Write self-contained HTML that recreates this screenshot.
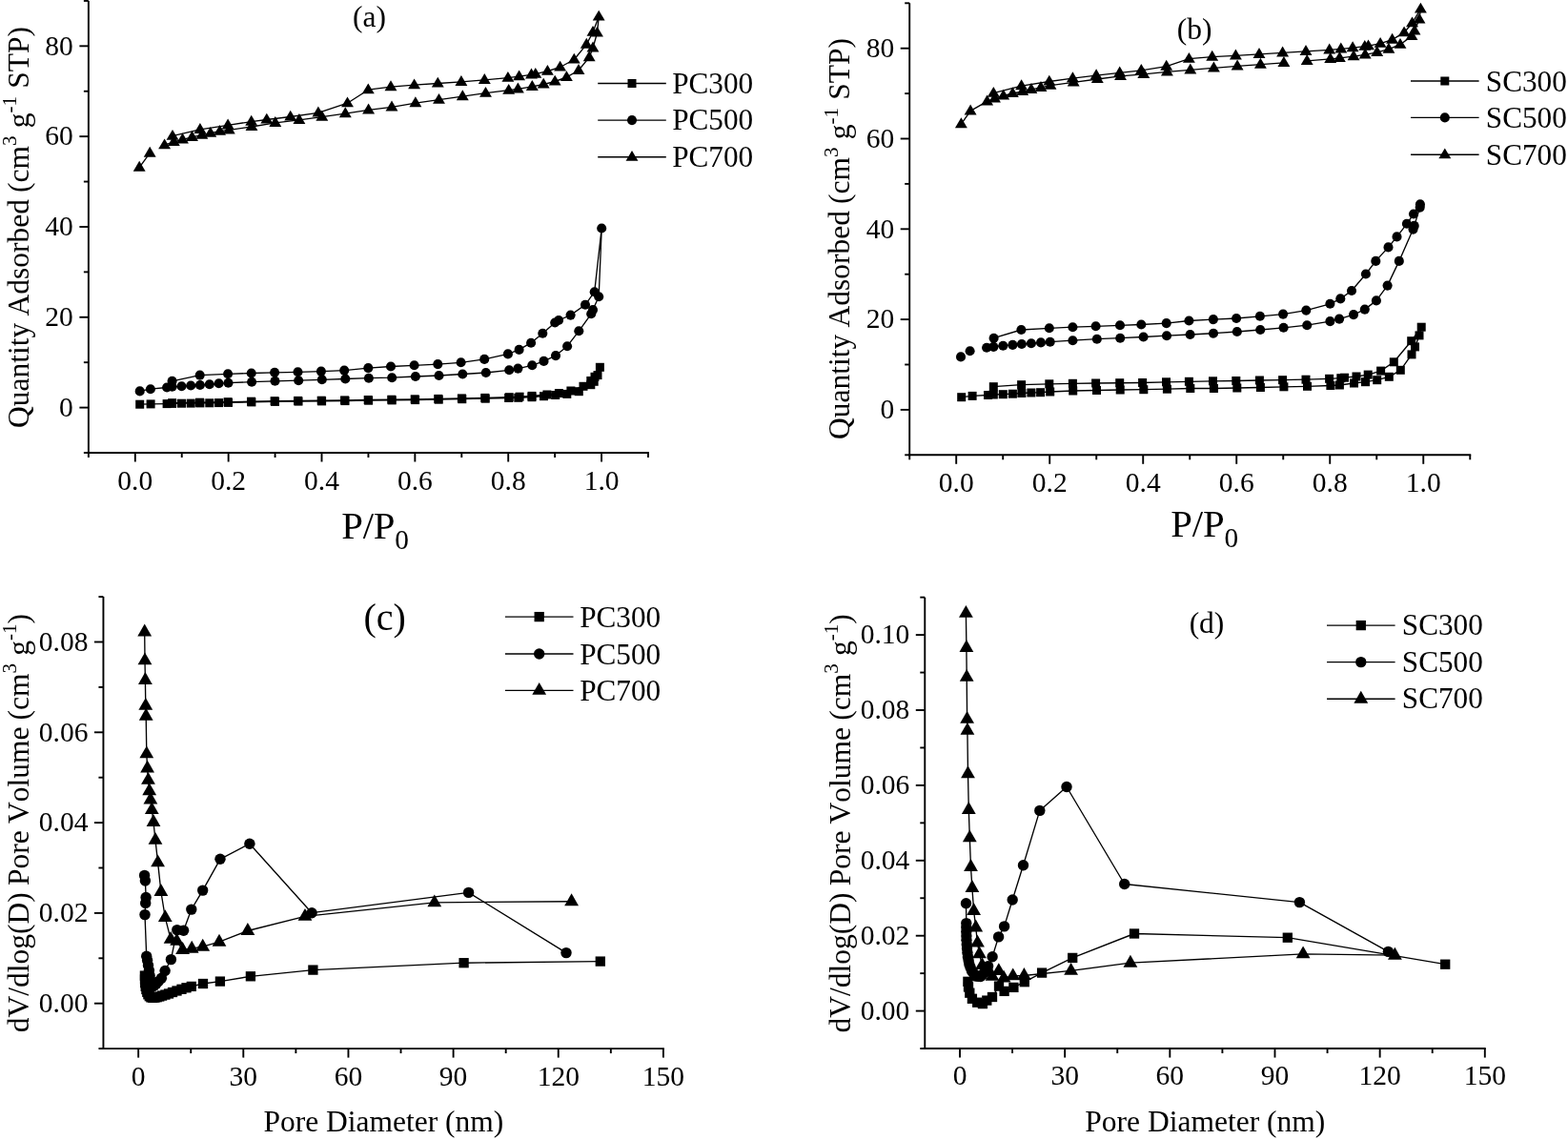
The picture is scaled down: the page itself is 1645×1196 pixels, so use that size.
<!DOCTYPE html>
<html lang="en"><head><meta charset="utf-8"><title>N2 adsorption isotherms and pore size distributions</title>
<style>
html,body{margin:0;padding:0;background:#fff;}
body{width:1645px;height:1196px;overflow:hidden;}
svg{display:block;font-family:"Liberation Serif", "DejaVu Serif", serif;fill:#000;font-kerning:none;font-variant-ligatures:none;}
</style></head><body>
<svg width="1645" height="1196" viewBox="0 0 1645 1196">
<rect x="0" y="0" width="1645" height="1196" fill="#fff"/>
<line x1="92.87" y1="0.91" x2="92.87" y2="475.96" stroke="#000" stroke-width="1.9"/>
<line x1="91.92" y1="475.01" x2="680.95" y2="475.01" stroke="#000" stroke-width="1.9"/>
<line x1="141.80" y1="475.01" x2="141.80" y2="484.51" stroke="#000" stroke-width="1.9"/>
<text x="141.80" y="514.01" font-size="29.5" text-anchor="middle" >0.0</text>
<line x1="239.65" y1="475.01" x2="239.65" y2="484.51" stroke="#000" stroke-width="1.9"/>
<text x="239.65" y="514.01" font-size="29.5" text-anchor="middle" >0.2</text>
<line x1="337.51" y1="475.01" x2="337.51" y2="484.51" stroke="#000" stroke-width="1.9"/>
<text x="337.51" y="514.01" font-size="29.5" text-anchor="middle" >0.4</text>
<line x1="435.36" y1="475.01" x2="435.36" y2="484.51" stroke="#000" stroke-width="1.9"/>
<text x="435.36" y="514.01" font-size="29.5" text-anchor="middle" >0.6</text>
<line x1="533.22" y1="475.01" x2="533.22" y2="484.51" stroke="#000" stroke-width="1.9"/>
<text x="533.22" y="514.01" font-size="29.5" text-anchor="middle" >0.8</text>
<line x1="631.07" y1="475.01" x2="631.07" y2="484.51" stroke="#000" stroke-width="1.9"/>
<text x="631.07" y="514.01" font-size="29.5" text-anchor="middle" >1.0</text>
<line x1="92.87" y1="475.01" x2="92.87" y2="480.01" stroke="#000" stroke-width="1.9"/>
<line x1="190.73" y1="475.01" x2="190.73" y2="480.01" stroke="#000" stroke-width="1.9"/>
<line x1="288.58" y1="475.01" x2="288.58" y2="480.01" stroke="#000" stroke-width="1.9"/>
<line x1="386.44" y1="475.01" x2="386.44" y2="480.01" stroke="#000" stroke-width="1.9"/>
<line x1="484.29" y1="475.01" x2="484.29" y2="480.01" stroke="#000" stroke-width="1.9"/>
<line x1="582.14" y1="475.01" x2="582.14" y2="480.01" stroke="#000" stroke-width="1.9"/>
<line x1="680.00" y1="475.01" x2="680.00" y2="480.01" stroke="#000" stroke-width="1.9"/>
<line x1="83.37" y1="427.60" x2="92.87" y2="427.60" stroke="#000" stroke-width="1.9"/>
<text x="76.87" y="436.90" font-size="29.5" text-anchor="end" >0</text>
<line x1="83.37" y1="332.78" x2="92.87" y2="332.78" stroke="#000" stroke-width="1.9"/>
<text x="76.87" y="342.08" font-size="29.5" text-anchor="end" >20</text>
<line x1="83.37" y1="237.96" x2="92.87" y2="237.96" stroke="#000" stroke-width="1.9"/>
<text x="76.87" y="247.26" font-size="29.5" text-anchor="end" >40</text>
<line x1="83.37" y1="143.14" x2="92.87" y2="143.14" stroke="#000" stroke-width="1.9"/>
<text x="76.87" y="152.44" font-size="29.5" text-anchor="end" >60</text>
<line x1="83.37" y1="48.32" x2="92.87" y2="48.32" stroke="#000" stroke-width="1.9"/>
<text x="76.87" y="57.62" font-size="29.5" text-anchor="end" >80</text>
<line x1="87.87" y1="475.01" x2="92.87" y2="475.01" stroke="#000" stroke-width="1.9"/>
<line x1="87.87" y1="380.19" x2="92.87" y2="380.19" stroke="#000" stroke-width="1.9"/>
<line x1="87.87" y1="285.37" x2="92.87" y2="285.37" stroke="#000" stroke-width="1.9"/>
<line x1="87.87" y1="190.55" x2="92.87" y2="190.55" stroke="#000" stroke-width="1.9"/>
<line x1="87.87" y1="95.73" x2="92.87" y2="95.73" stroke="#000" stroke-width="1.9"/>
<line x1="87.87" y1="0.91" x2="92.87" y2="0.91" stroke="#000" stroke-width="1.9"/>
<polyline points="146.7,424.2 158.1,423.9 175.1,423.6 180.6,423.4 190.5,423.2 200.2,423.1 209.9,422.9 219.8,422.8 229.6,422.6 239.5,422.4 263.9,421.9 288.5,421.4 313.0,421.1 337.6,420.9 362.0,420.6 386.6,420.2 411.2,419.9 435.6,419.6 460.2,419.2 484.8,418.7 509.2,418.2 533.7,417.5 543.8,417.3 558.0,416.7 570.5,415.7 582.7,414.5 594.8,413.4 607.3,410.7 619.8,403.7 623.2,400.3 627.0,393.6 629.4,385.3 624.0,395.3 619.8,399.5 612.0,405.3 598.9,410.0 586.4,412.5 573.9,414.0 558.0,415.4 545.1,416.2 534.2,416.7 508.8,417.4 484.4,417.9 459.8,418.4 435.2,418.8 410.8,419.2 386.2,419.5 361.6,419.9 337.2,420.2 312.6,420.4 288.1,420.7 263.5,421.2 239.1,421.7 209.5,422.2 180.6,422.7" fill="none" stroke="#000" stroke-width="1.35" stroke-linejoin="round"/>
<rect x="142.20" y="419.70" width="9.00" height="9.00"/>
<rect x="153.60" y="419.40" width="9.00" height="9.00"/>
<rect x="170.60" y="419.10" width="9.00" height="9.00"/>
<rect x="176.10" y="418.90" width="9.00" height="9.00"/>
<rect x="186.00" y="418.70" width="9.00" height="9.00"/>
<rect x="195.70" y="418.60" width="9.00" height="9.00"/>
<rect x="205.40" y="418.40" width="9.00" height="9.00"/>
<rect x="215.30" y="418.30" width="9.00" height="9.00"/>
<rect x="225.10" y="418.10" width="9.00" height="9.00"/>
<rect x="235.00" y="417.90" width="9.00" height="9.00"/>
<rect x="259.40" y="417.40" width="9.00" height="9.00"/>
<rect x="284.00" y="416.90" width="9.00" height="9.00"/>
<rect x="308.50" y="416.60" width="9.00" height="9.00"/>
<rect x="333.10" y="416.40" width="9.00" height="9.00"/>
<rect x="357.50" y="416.10" width="9.00" height="9.00"/>
<rect x="382.10" y="415.70" width="9.00" height="9.00"/>
<rect x="406.70" y="415.40" width="9.00" height="9.00"/>
<rect x="431.10" y="415.10" width="9.00" height="9.00"/>
<rect x="455.70" y="414.70" width="9.00" height="9.00"/>
<rect x="480.30" y="414.20" width="9.00" height="9.00"/>
<rect x="504.70" y="413.70" width="9.00" height="9.00"/>
<rect x="529.20" y="413.00" width="9.00" height="9.00"/>
<rect x="539.30" y="412.80" width="9.00" height="9.00"/>
<rect x="553.50" y="412.20" width="9.00" height="9.00"/>
<rect x="566.00" y="411.20" width="9.00" height="9.00"/>
<rect x="578.20" y="410.00" width="9.00" height="9.00"/>
<rect x="590.30" y="408.90" width="9.00" height="9.00"/>
<rect x="602.80" y="406.20" width="9.00" height="9.00"/>
<rect x="615.30" y="399.20" width="9.00" height="9.00"/>
<rect x="618.70" y="395.80" width="9.00" height="9.00"/>
<rect x="622.50" y="389.10" width="9.00" height="9.00"/>
<rect x="624.90" y="380.80" width="9.00" height="9.00"/>
<rect x="619.50" y="390.80" width="9.00" height="9.00"/>
<rect x="615.30" y="395.00" width="9.00" height="9.00"/>
<rect x="607.50" y="400.80" width="9.00" height="9.00"/>
<rect x="594.40" y="405.50" width="9.00" height="9.00"/>
<rect x="581.90" y="408.00" width="9.00" height="9.00"/>
<rect x="569.40" y="409.50" width="9.00" height="9.00"/>
<rect x="553.50" y="410.90" width="9.00" height="9.00"/>
<rect x="540.60" y="411.70" width="9.00" height="9.00"/>
<rect x="529.70" y="412.20" width="9.00" height="9.00"/>
<rect x="504.30" y="412.90" width="9.00" height="9.00"/>
<rect x="479.90" y="413.40" width="9.00" height="9.00"/>
<rect x="455.30" y="413.90" width="9.00" height="9.00"/>
<rect x="430.70" y="414.30" width="9.00" height="9.00"/>
<rect x="406.30" y="414.70" width="9.00" height="9.00"/>
<rect x="381.70" y="415.00" width="9.00" height="9.00"/>
<rect x="357.10" y="415.40" width="9.00" height="9.00"/>
<rect x="332.70" y="415.70" width="9.00" height="9.00"/>
<rect x="308.10" y="415.90" width="9.00" height="9.00"/>
<rect x="283.60" y="416.20" width="9.00" height="9.00"/>
<rect x="259.00" y="416.70" width="9.00" height="9.00"/>
<rect x="234.60" y="417.20" width="9.00" height="9.00"/>
<rect x="205.00" y="417.70" width="9.00" height="9.00"/>
<rect x="176.10" y="418.20" width="9.00" height="9.00"/>
<polyline points="146.7,410.4 157.9,408.2 175.1,406.5 180.6,405.8 190.5,405.3 200.2,404.5 209.9,404.0 219.8,403.2 229.6,402.3 239.5,401.7 264.1,400.7 288.5,399.8 313.2,399.2 337.8,398.3 362.3,397.5 386.9,396.7 411.2,396.2 435.9,395.0 460.5,394.0 485.3,392.5 509.8,391.0 534.2,388.3 543.4,386.6 558.3,383.3 570.5,378.9 583.0,373.1 595.1,363.2 607.3,347.3 620.2,329.3 622.0,325.1 628.2,311.2 631.2,239.5 623.7,306.2 614.0,319.8 598.6,330.6 586.1,336.0 582.2,338.5 569.3,349.7 557.1,359.7 544.6,366.9 532.9,371.4 508.2,376.9 483.6,380.3 459.3,382.1 434.6,383.3 410.0,384.5 386.3,386.1 361.2,388.6 336.9,389.6 312.5,390.3 288.1,390.8 263.7,391.5 239.1,392.3 209.7,393.6 180.6,399.8" fill="none" stroke="#000" stroke-width="1.35" stroke-linejoin="round"/>
<circle cx="146.70" cy="410.40" r="5.05"/>
<circle cx="157.90" cy="408.20" r="5.05"/>
<circle cx="175.10" cy="406.50" r="5.05"/>
<circle cx="180.60" cy="405.80" r="5.05"/>
<circle cx="190.50" cy="405.30" r="5.05"/>
<circle cx="200.20" cy="404.50" r="5.05"/>
<circle cx="209.90" cy="404.00" r="5.05"/>
<circle cx="219.80" cy="403.20" r="5.05"/>
<circle cx="229.60" cy="402.30" r="5.05"/>
<circle cx="239.50" cy="401.70" r="5.05"/>
<circle cx="264.10" cy="400.70" r="5.05"/>
<circle cx="288.50" cy="399.80" r="5.05"/>
<circle cx="313.20" cy="399.20" r="5.05"/>
<circle cx="337.80" cy="398.30" r="5.05"/>
<circle cx="362.30" cy="397.50" r="5.05"/>
<circle cx="386.90" cy="396.70" r="5.05"/>
<circle cx="411.20" cy="396.20" r="5.05"/>
<circle cx="435.90" cy="395.00" r="5.05"/>
<circle cx="460.50" cy="394.00" r="5.05"/>
<circle cx="485.30" cy="392.50" r="5.05"/>
<circle cx="509.80" cy="391.00" r="5.05"/>
<circle cx="534.20" cy="388.30" r="5.05"/>
<circle cx="543.40" cy="386.60" r="5.05"/>
<circle cx="558.30" cy="383.30" r="5.05"/>
<circle cx="570.50" cy="378.90" r="5.05"/>
<circle cx="583.00" cy="373.10" r="5.05"/>
<circle cx="595.10" cy="363.20" r="5.05"/>
<circle cx="607.30" cy="347.30" r="5.05"/>
<circle cx="620.20" cy="329.30" r="5.05"/>
<circle cx="622.00" cy="325.10" r="5.05"/>
<circle cx="628.20" cy="311.20" r="5.05"/>
<circle cx="631.20" cy="239.50" r="5.05"/>
<circle cx="623.70" cy="306.20" r="5.05"/>
<circle cx="614.00" cy="319.80" r="5.05"/>
<circle cx="598.60" cy="330.60" r="5.05"/>
<circle cx="586.10" cy="336.00" r="5.05"/>
<circle cx="582.20" cy="338.50" r="5.05"/>
<circle cx="569.30" cy="349.70" r="5.05"/>
<circle cx="557.10" cy="359.70" r="5.05"/>
<circle cx="544.60" cy="366.90" r="5.05"/>
<circle cx="532.90" cy="371.40" r="5.05"/>
<circle cx="508.20" cy="376.90" r="5.05"/>
<circle cx="483.60" cy="380.30" r="5.05"/>
<circle cx="459.30" cy="382.10" r="5.05"/>
<circle cx="434.60" cy="383.30" r="5.05"/>
<circle cx="410.00" cy="384.50" r="5.05"/>
<circle cx="386.30" cy="386.10" r="5.05"/>
<circle cx="361.20" cy="388.60" r="5.05"/>
<circle cx="336.90" cy="389.60" r="5.05"/>
<circle cx="312.50" cy="390.30" r="5.05"/>
<circle cx="288.10" cy="390.80" r="5.05"/>
<circle cx="263.70" cy="391.50" r="5.05"/>
<circle cx="239.10" cy="392.30" r="5.05"/>
<circle cx="209.70" cy="393.60" r="5.05"/>
<circle cx="180.60" cy="399.80" r="5.05"/>
<polyline points="146.2,175.6 157.2,160.6" fill="none" stroke="#000" stroke-width="1.35" stroke-linejoin="round"/>
<polyline points="172.6,152.2 182.3,148.9 191.5,146.4 201.5,143.9 211.9,141.7 220.8,139.7 230.6,137.7 240.3,136.3 264.0,133.0 288.8,128.8 313.9,125.8 337.8,122.6 362.3,119.1 386.6,115.4 411.0,112.3 435.9,108.1 460.5,104.7 485.3,101.1 509.5,97.7 533.7,94.7 543.4,93.4 558.3,90.9 570.2,88.5 582.2,85.5 594.4,81.0 607.0,73.8 618.2,60.1 622.0,50.4 626.5,34.5 628.2,17.5 622.0,33.7 615.3,46.6 602.3,62.5 587.6,70.5 574.4,74.7 561.8,77.7 557.5,78.3 544.6,80.2 532.9,81.7 508.3,83.9 483.9,85.9 459.3,87.5 434.6,89.2 410.0,91.1 386.3,94.2 364.5,108.2 333.9,118.3 304.7,122.5 279.8,125.5 263.7,127.6 239.1,131.3 209.9,135.8 181.0,142.7" fill="none" stroke="#000" stroke-width="1.35" stroke-linejoin="round"/>
<polygon points="146.20,168.80 152.65,179.70 139.75,179.70"/>
<polygon points="157.20,153.80 163.65,164.70 150.75,164.70"/>
<polygon points="172.60,145.40 179.05,156.30 166.15,156.30"/>
<polygon points="182.30,142.10 188.75,153.00 175.85,153.00"/>
<polygon points="191.50,139.60 197.95,150.50 185.05,150.50"/>
<polygon points="201.50,137.10 207.95,148.00 195.05,148.00"/>
<polygon points="211.90,134.90 218.35,145.80 205.45,145.80"/>
<polygon points="220.80,132.90 227.25,143.80 214.35,143.80"/>
<polygon points="230.60,130.90 237.05,141.80 224.15,141.80"/>
<polygon points="240.30,129.50 246.75,140.40 233.85,140.40"/>
<polygon points="264.00,126.20 270.45,137.10 257.55,137.10"/>
<polygon points="288.80,122.00 295.25,132.90 282.35,132.90"/>
<polygon points="313.90,119.00 320.35,129.90 307.45,129.90"/>
<polygon points="337.80,115.80 344.25,126.70 331.35,126.70"/>
<polygon points="362.30,112.30 368.75,123.20 355.85,123.20"/>
<polygon points="386.60,108.60 393.05,119.50 380.15,119.50"/>
<polygon points="411.00,105.50 417.45,116.40 404.55,116.40"/>
<polygon points="435.90,101.30 442.35,112.20 429.45,112.20"/>
<polygon points="460.50,97.90 466.95,108.80 454.05,108.80"/>
<polygon points="485.30,94.30 491.75,105.20 478.85,105.20"/>
<polygon points="509.50,90.90 515.95,101.80 503.05,101.80"/>
<polygon points="533.70,87.90 540.15,98.80 527.25,98.80"/>
<polygon points="543.40,86.60 549.85,97.50 536.95,97.50"/>
<polygon points="558.30,84.10 564.75,95.00 551.85,95.00"/>
<polygon points="570.20,81.70 576.65,92.60 563.75,92.60"/>
<polygon points="582.20,78.70 588.65,89.60 575.75,89.60"/>
<polygon points="594.40,74.20 600.85,85.10 587.95,85.10"/>
<polygon points="607.00,67.00 613.45,77.90 600.55,77.90"/>
<polygon points="618.20,53.30 624.65,64.20 611.75,64.20"/>
<polygon points="622.00,43.60 628.45,54.50 615.55,54.50"/>
<polygon points="626.50,27.70 632.95,38.60 620.05,38.60"/>
<polygon points="628.20,10.70 634.65,21.60 621.75,21.60"/>
<polygon points="622.00,26.90 628.45,37.80 615.55,37.80"/>
<polygon points="615.30,39.80 621.75,50.70 608.85,50.70"/>
<polygon points="602.30,55.70 608.75,66.60 595.85,66.60"/>
<polygon points="587.60,63.70 594.05,74.60 581.15,74.60"/>
<polygon points="574.40,67.90 580.85,78.80 567.95,78.80"/>
<polygon points="561.80,70.90 568.25,81.80 555.35,81.80"/>
<polygon points="557.50,71.50 563.95,82.40 551.05,82.40"/>
<polygon points="544.60,73.40 551.05,84.30 538.15,84.30"/>
<polygon points="532.90,74.90 539.35,85.80 526.45,85.80"/>
<polygon points="508.30,77.10 514.75,88.00 501.85,88.00"/>
<polygon points="483.90,79.10 490.35,90.00 477.45,90.00"/>
<polygon points="459.30,80.70 465.75,91.60 452.85,91.60"/>
<polygon points="434.60,82.40 441.05,93.30 428.15,93.30"/>
<polygon points="410.00,84.30 416.45,95.20 403.55,95.20"/>
<polygon points="386.30,87.40 392.75,98.30 379.85,98.30"/>
<polygon points="364.50,101.40 370.95,112.30 358.05,112.30"/>
<polygon points="333.90,111.50 340.35,122.40 327.45,122.40"/>
<polygon points="304.70,115.70 311.15,126.60 298.25,126.60"/>
<polygon points="279.80,118.70 286.25,129.60 273.35,129.60"/>
<polygon points="263.70,120.80 270.15,131.70 257.25,131.70"/>
<polygon points="239.10,124.50 245.55,135.40 232.65,135.40"/>
<polygon points="209.90,129.00 216.35,139.90 203.45,139.90"/>
<polygon points="181.00,135.90 187.45,146.80 174.55,146.80"/>
<line x1="627.20" y1="87.50" x2="698.80" y2="87.50" stroke="#000" stroke-width="1.35"/>
<rect x="658.50" y="83.00" width="9.00" height="9.00"/>
<text x="705.20" y="97.50" font-size="31.2" text-anchor="start" >PC300</text>
<line x1="627.20" y1="126.10" x2="698.80" y2="126.10" stroke="#000" stroke-width="1.35"/>
<circle cx="663.00" cy="126.10" r="5.05"/>
<text x="705.20" y="136.10" font-size="31.2" text-anchor="start" >PC500</text>
<line x1="627.20" y1="164.70" x2="698.80" y2="164.70" stroke="#000" stroke-width="1.35"/>
<polygon points="663.00,157.90 669.45,168.80 656.55,168.80"/>
<text x="705.20" y="174.70" font-size="31.2" text-anchor="start" >PC700</text>
<text transform="translate(29.8,238.5) rotate(-90)" font-size="31.5" word-spacing="-0.7" text-anchor="middle">Quantity Adsorbed (cm<tspan dy="-12.7" font-size="21">3</tspan><tspan dx="1.0" dy="12.7"> g</tspan><tspan dy="-12.7" font-size="21">-1</tspan><tspan dx="1.0" dy="12.7"> STP)</tspan></text>
<text x="358.2" y="565" font-size="40.8" letter-spacing="-0.2" text-anchor="start">P/P<tspan dx="0" dy="10.8" font-size="29.3">0</tspan></text>
<text x="387.6" y="27.9" font-size="31.5" text-anchor="middle">(a)</text>
<line x1="954.20" y1="3.30" x2="954.20" y2="478.25" stroke="#000" stroke-width="1.9"/>
<line x1="953.25" y1="477.30" x2="1543.21" y2="477.30" stroke="#000" stroke-width="1.9"/>
<line x1="1003.20" y1="477.30" x2="1003.20" y2="486.80" stroke="#000" stroke-width="1.9"/>
<text x="1003.20" y="516.30" font-size="29.5" text-anchor="middle" >0.0</text>
<line x1="1101.21" y1="477.30" x2="1101.21" y2="486.80" stroke="#000" stroke-width="1.9"/>
<text x="1101.21" y="516.30" font-size="29.5" text-anchor="middle" >0.2</text>
<line x1="1199.22" y1="477.30" x2="1199.22" y2="486.80" stroke="#000" stroke-width="1.9"/>
<text x="1199.22" y="516.30" font-size="29.5" text-anchor="middle" >0.4</text>
<line x1="1297.23" y1="477.30" x2="1297.23" y2="486.80" stroke="#000" stroke-width="1.9"/>
<text x="1297.23" y="516.30" font-size="29.5" text-anchor="middle" >0.6</text>
<line x1="1395.24" y1="477.30" x2="1395.24" y2="486.80" stroke="#000" stroke-width="1.9"/>
<text x="1395.24" y="516.30" font-size="29.5" text-anchor="middle" >0.8</text>
<line x1="1493.25" y1="477.30" x2="1493.25" y2="486.80" stroke="#000" stroke-width="1.9"/>
<text x="1493.25" y="516.30" font-size="29.5" text-anchor="middle" >1.0</text>
<line x1="954.20" y1="477.30" x2="954.20" y2="482.30" stroke="#000" stroke-width="1.9"/>
<line x1="1052.21" y1="477.30" x2="1052.21" y2="482.30" stroke="#000" stroke-width="1.9"/>
<line x1="1150.22" y1="477.30" x2="1150.22" y2="482.30" stroke="#000" stroke-width="1.9"/>
<line x1="1248.23" y1="477.30" x2="1248.23" y2="482.30" stroke="#000" stroke-width="1.9"/>
<line x1="1346.24" y1="477.30" x2="1346.24" y2="482.30" stroke="#000" stroke-width="1.9"/>
<line x1="1444.25" y1="477.30" x2="1444.25" y2="482.30" stroke="#000" stroke-width="1.9"/>
<line x1="1542.26" y1="477.30" x2="1542.26" y2="482.30" stroke="#000" stroke-width="1.9"/>
<line x1="944.70" y1="429.90" x2="954.20" y2="429.90" stroke="#000" stroke-width="1.9"/>
<text x="938.20" y="439.20" font-size="29.5" text-anchor="end" >0</text>
<line x1="944.70" y1="335.10" x2="954.20" y2="335.10" stroke="#000" stroke-width="1.9"/>
<text x="938.20" y="344.40" font-size="29.5" text-anchor="end" >20</text>
<line x1="944.70" y1="240.30" x2="954.20" y2="240.30" stroke="#000" stroke-width="1.9"/>
<text x="938.20" y="249.60" font-size="29.5" text-anchor="end" >40</text>
<line x1="944.70" y1="145.50" x2="954.20" y2="145.50" stroke="#000" stroke-width="1.9"/>
<text x="938.20" y="154.80" font-size="29.5" text-anchor="end" >60</text>
<line x1="944.70" y1="50.70" x2="954.20" y2="50.70" stroke="#000" stroke-width="1.9"/>
<text x="938.20" y="60.00" font-size="29.5" text-anchor="end" >80</text>
<line x1="949.20" y1="477.30" x2="954.20" y2="477.30" stroke="#000" stroke-width="1.9"/>
<line x1="949.20" y1="382.50" x2="954.20" y2="382.50" stroke="#000" stroke-width="1.9"/>
<line x1="949.20" y1="287.70" x2="954.20" y2="287.70" stroke="#000" stroke-width="1.9"/>
<line x1="949.20" y1="192.90" x2="954.20" y2="192.90" stroke="#000" stroke-width="1.9"/>
<line x1="949.20" y1="98.10" x2="954.20" y2="98.10" stroke="#000" stroke-width="1.9"/>
<line x1="949.20" y1="3.30" x2="954.20" y2="3.30" stroke="#000" stroke-width="1.9"/>
<polyline points="1008.7,416.7 1020.1,415.4 1036.5,414.5 1042.3,414.0 1052.3,413.7 1062.4,413.2 1071.9,412.5 1081.9,412.0 1091.6,411.7 1101.7,411.0 1125.7,410.0 1150.5,409.5 1175.2,409.0 1199.8,408.7 1224.4,408.2 1248.8,407.5 1273.4,407.5 1297.8,407.0 1322.4,406.5 1346.9,405.8 1371.5,405.3 1395.9,404.5 1405.4,404.0 1420.5,402.0 1432.5,400.7 1444.7,398.7 1457.3,395.3 1469.3,388.3 1481.0,371.9 1484.5,363.9 1489.0,351.9 1491.2,343.2 1480.7,357.7 1462.3,379.8 1448.6,389.1 1435.2,393.1 1423.0,395.0 1410.5,396.2 1406.8,396.7 1394.6,397.3 1370.0,398.2 1345.6,398.7 1321.4,399.0 1296.8,399.5 1272.5,399.8 1247.4,400.3 1223.5,400.8 1198.6,401.5 1174.7,401.7 1149.6,402.0 1125.4,402.3 1100.8,402.8 1071.6,403.7 1042.3,405.7" fill="none" stroke="#000" stroke-width="1.35" stroke-linejoin="round"/>
<rect x="1004.20" y="412.20" width="9.00" height="9.00"/>
<rect x="1015.60" y="410.90" width="9.00" height="9.00"/>
<rect x="1032.00" y="410.00" width="9.00" height="9.00"/>
<rect x="1037.80" y="409.50" width="9.00" height="9.00"/>
<rect x="1047.80" y="409.20" width="9.00" height="9.00"/>
<rect x="1057.90" y="408.70" width="9.00" height="9.00"/>
<rect x="1067.40" y="408.00" width="9.00" height="9.00"/>
<rect x="1077.40" y="407.50" width="9.00" height="9.00"/>
<rect x="1087.10" y="407.20" width="9.00" height="9.00"/>
<rect x="1097.20" y="406.50" width="9.00" height="9.00"/>
<rect x="1121.20" y="405.50" width="9.00" height="9.00"/>
<rect x="1146.00" y="405.00" width="9.00" height="9.00"/>
<rect x="1170.70" y="404.50" width="9.00" height="9.00"/>
<rect x="1195.30" y="404.20" width="9.00" height="9.00"/>
<rect x="1219.90" y="403.70" width="9.00" height="9.00"/>
<rect x="1244.30" y="403.00" width="9.00" height="9.00"/>
<rect x="1268.90" y="403.00" width="9.00" height="9.00"/>
<rect x="1293.30" y="402.50" width="9.00" height="9.00"/>
<rect x="1317.90" y="402.00" width="9.00" height="9.00"/>
<rect x="1342.40" y="401.30" width="9.00" height="9.00"/>
<rect x="1367.00" y="400.80" width="9.00" height="9.00"/>
<rect x="1391.40" y="400.00" width="9.00" height="9.00"/>
<rect x="1400.90" y="399.50" width="9.00" height="9.00"/>
<rect x="1416.00" y="397.50" width="9.00" height="9.00"/>
<rect x="1428.00" y="396.20" width="9.00" height="9.00"/>
<rect x="1440.20" y="394.20" width="9.00" height="9.00"/>
<rect x="1452.80" y="390.80" width="9.00" height="9.00"/>
<rect x="1464.80" y="383.80" width="9.00" height="9.00"/>
<rect x="1476.50" y="367.40" width="9.00" height="9.00"/>
<rect x="1480.00" y="359.40" width="9.00" height="9.00"/>
<rect x="1484.50" y="347.40" width="9.00" height="9.00"/>
<rect x="1486.70" y="338.70" width="9.00" height="9.00"/>
<rect x="1476.20" y="353.20" width="9.00" height="9.00"/>
<rect x="1457.80" y="375.30" width="9.00" height="9.00"/>
<rect x="1444.10" y="384.60" width="9.00" height="9.00"/>
<rect x="1430.70" y="388.60" width="9.00" height="9.00"/>
<rect x="1418.50" y="390.50" width="9.00" height="9.00"/>
<rect x="1406.00" y="391.70" width="9.00" height="9.00"/>
<rect x="1402.30" y="392.20" width="9.00" height="9.00"/>
<rect x="1390.10" y="392.80" width="9.00" height="9.00"/>
<rect x="1365.50" y="393.70" width="9.00" height="9.00"/>
<rect x="1341.10" y="394.20" width="9.00" height="9.00"/>
<rect x="1316.90" y="394.50" width="9.00" height="9.00"/>
<rect x="1292.30" y="395.00" width="9.00" height="9.00"/>
<rect x="1268.00" y="395.30" width="9.00" height="9.00"/>
<rect x="1242.90" y="395.80" width="9.00" height="9.00"/>
<rect x="1219.00" y="396.30" width="9.00" height="9.00"/>
<rect x="1194.10" y="397.00" width="9.00" height="9.00"/>
<rect x="1170.20" y="397.20" width="9.00" height="9.00"/>
<rect x="1145.10" y="397.50" width="9.00" height="9.00"/>
<rect x="1120.90" y="397.80" width="9.00" height="9.00"/>
<rect x="1096.30" y="398.30" width="9.00" height="9.00"/>
<rect x="1067.10" y="399.20" width="9.00" height="9.00"/>
<rect x="1037.80" y="401.20" width="9.00" height="9.00"/>
<polyline points="1008.0,374.4" fill="none" stroke="#000" stroke-width="1.35" stroke-linejoin="round"/>
<polyline points="1017.6,368.2" fill="none" stroke="#000" stroke-width="1.35" stroke-linejoin="round"/>
<polyline points="1035.1,364.7 1042.3,363.9 1052.3,362.7 1062.4,361.9 1071.9,361.0 1081.9,360.2 1092.0,359.4 1101.7,358.7 1125.4,357.2 1150.8,355.7 1175.2,354.7 1199.6,353.5 1224.0,352.2 1248.6,351.0 1273.0,349.7 1297.8,348.0 1322.2,346.0 1346.6,343.8 1371.2,341.2 1395.4,337.1 1405.1,334.6 1420.0,330.1 1431.8,324.6 1443.9,315.4 1455.6,299.6 1467.8,273.9 1482.5,240.6 1483.7,236.9 1489.7,217.6 1489.9,214.4 1483.0,224.5 1475.9,234.8 1465.5,248.4 1456.5,259.4 1443.3,273.9 1432.9,287.5 1418.0,305.0 1406.3,313.4 1395.4,318.8 1370.3,325.6 1346.1,329.6 1321.9,331.8 1297.1,334.0 1272.9,335.1 1247.4,336.5 1223.7,339.1 1197.3,340.5 1175.0,341.3 1149.6,342.3 1125.4,343.2 1100.8,344.3 1071.4,346.0 1042.6,354.7" fill="none" stroke="#000" stroke-width="1.35" stroke-linejoin="round"/>
<circle cx="1008.00" cy="374.40" r="5.05"/>
<circle cx="1017.60" cy="368.20" r="5.05"/>
<circle cx="1035.10" cy="364.70" r="5.05"/>
<circle cx="1042.30" cy="363.90" r="5.05"/>
<circle cx="1052.30" cy="362.70" r="5.05"/>
<circle cx="1062.40" cy="361.90" r="5.05"/>
<circle cx="1071.90" cy="361.00" r="5.05"/>
<circle cx="1081.90" cy="360.20" r="5.05"/>
<circle cx="1092.00" cy="359.40" r="5.05"/>
<circle cx="1101.70" cy="358.70" r="5.05"/>
<circle cx="1125.40" cy="357.20" r="5.05"/>
<circle cx="1150.80" cy="355.70" r="5.05"/>
<circle cx="1175.20" cy="354.70" r="5.05"/>
<circle cx="1199.60" cy="353.50" r="5.05"/>
<circle cx="1224.00" cy="352.20" r="5.05"/>
<circle cx="1248.60" cy="351.00" r="5.05"/>
<circle cx="1273.00" cy="349.70" r="5.05"/>
<circle cx="1297.80" cy="348.00" r="5.05"/>
<circle cx="1322.20" cy="346.00" r="5.05"/>
<circle cx="1346.60" cy="343.80" r="5.05"/>
<circle cx="1371.20" cy="341.20" r="5.05"/>
<circle cx="1395.40" cy="337.10" r="5.05"/>
<circle cx="1405.10" cy="334.60" r="5.05"/>
<circle cx="1420.00" cy="330.10" r="5.05"/>
<circle cx="1431.80" cy="324.60" r="5.05"/>
<circle cx="1443.90" cy="315.40" r="5.05"/>
<circle cx="1455.60" cy="299.60" r="5.05"/>
<circle cx="1467.80" cy="273.90" r="5.05"/>
<circle cx="1482.50" cy="240.60" r="5.05"/>
<circle cx="1483.70" cy="236.90" r="5.05"/>
<circle cx="1489.70" cy="217.60" r="5.05"/>
<circle cx="1489.90" cy="214.40" r="5.05"/>
<circle cx="1483.00" cy="224.50" r="5.05"/>
<circle cx="1475.90" cy="234.80" r="5.05"/>
<circle cx="1465.50" cy="248.40" r="5.05"/>
<circle cx="1456.50" cy="259.40" r="5.05"/>
<circle cx="1443.30" cy="273.90" r="5.05"/>
<circle cx="1432.90" cy="287.50" r="5.05"/>
<circle cx="1418.00" cy="305.00" r="5.05"/>
<circle cx="1406.30" cy="313.40" r="5.05"/>
<circle cx="1395.40" cy="318.80" r="5.05"/>
<circle cx="1370.30" cy="325.60" r="5.05"/>
<circle cx="1346.10" cy="329.60" r="5.05"/>
<circle cx="1321.90" cy="331.80" r="5.05"/>
<circle cx="1297.10" cy="334.00" r="5.05"/>
<circle cx="1272.90" cy="335.10" r="5.05"/>
<circle cx="1247.40" cy="336.50" r="5.05"/>
<circle cx="1223.70" cy="339.10" r="5.05"/>
<circle cx="1197.30" cy="340.50" r="5.05"/>
<circle cx="1175.00" cy="341.30" r="5.05"/>
<circle cx="1149.60" cy="342.30" r="5.05"/>
<circle cx="1125.40" cy="343.20" r="5.05"/>
<circle cx="1100.80" cy="344.30" r="5.05"/>
<circle cx="1071.40" cy="346.00" r="5.05"/>
<circle cx="1042.60" cy="354.70" r="5.05"/>
<polyline points="1008.4,130.1 1018.1,116.4 1035.6,106.4 1043.5,103.4 1052.7,100.5 1062.4,98.0 1072.7,96.0 1081.9,93.8 1092.0,91.8 1102.0,89.6 1126.2,86.3 1151.3,83.0 1175.5,79.9 1199.8,77.9 1224.4,75.4 1248.8,73.4 1273.4,71.3 1298.1,69.3 1322.4,67.6 1346.9,65.8" fill="none" stroke="#000" stroke-width="1.35" stroke-linejoin="round"/>
<polyline points="1371.2,63.8 1395.7,61.8 1405.4,60.8 1420.1,59.1 1432.2,57.4 1444.7,54.9 1456.9,51.6 1469.0,46.7 1481.0,37.9 1484.0,32.4 1489.0,20.3 1490.4,9.5 1481.5,24.2 1473.1,34.2 1460.6,41.6 1448.1,45.7 1435.5,48.2 1431.8,48.7 1419.1,50.1 1406.8,51.3 1394.7,52.4 1370.0,53.8 1345.6,55.4 1321.0,56.8 1296.4,58.3 1271.7,59.6 1247.4,61.7 1223.7,69.6 1197.3,73.8 1174.7,76.3 1150.1,79.1 1125.4,82.1 1100.8,85.5 1071.6,90.1 1042.3,97.7" fill="none" stroke="#000" stroke-width="1.35" stroke-linejoin="round"/>
<polygon points="1008.40,123.30 1014.85,134.20 1001.95,134.20"/>
<polygon points="1018.10,109.60 1024.55,120.50 1011.65,120.50"/>
<polygon points="1035.60,99.60 1042.05,110.50 1029.15,110.50"/>
<polygon points="1043.50,96.60 1049.95,107.50 1037.05,107.50"/>
<polygon points="1052.70,93.70 1059.15,104.60 1046.25,104.60"/>
<polygon points="1062.40,91.20 1068.85,102.10 1055.95,102.10"/>
<polygon points="1072.70,89.20 1079.15,100.10 1066.25,100.10"/>
<polygon points="1081.90,87.00 1088.35,97.90 1075.45,97.90"/>
<polygon points="1092.00,85.00 1098.45,95.90 1085.55,95.90"/>
<polygon points="1102.00,82.80 1108.45,93.70 1095.55,93.70"/>
<polygon points="1126.20,79.50 1132.65,90.40 1119.75,90.40"/>
<polygon points="1151.30,76.20 1157.75,87.10 1144.85,87.10"/>
<polygon points="1175.50,73.10 1181.95,84.00 1169.05,84.00"/>
<polygon points="1199.80,71.10 1206.25,82.00 1193.35,82.00"/>
<polygon points="1224.40,68.60 1230.85,79.50 1217.95,79.50"/>
<polygon points="1248.80,66.60 1255.25,77.50 1242.35,77.50"/>
<polygon points="1273.40,64.50 1279.85,75.40 1266.95,75.40"/>
<polygon points="1298.10,62.50 1304.55,73.40 1291.65,73.40"/>
<polygon points="1322.40,60.80 1328.85,71.70 1315.95,71.70"/>
<polygon points="1346.90,59.00 1353.35,69.90 1340.45,69.90"/>
<polygon points="1371.20,57.00 1377.65,67.90 1364.75,67.90"/>
<polygon points="1395.70,55.00 1402.15,65.90 1389.25,65.90"/>
<polygon points="1405.40,54.00 1411.85,64.90 1398.95,64.90"/>
<polygon points="1420.10,52.30 1426.55,63.20 1413.65,63.20"/>
<polygon points="1432.20,50.60 1438.65,61.50 1425.75,61.50"/>
<polygon points="1444.70,48.10 1451.15,59.00 1438.25,59.00"/>
<polygon points="1456.90,44.80 1463.35,55.70 1450.45,55.70"/>
<polygon points="1469.00,39.90 1475.45,50.80 1462.55,50.80"/>
<polygon points="1481.00,31.10 1487.45,42.00 1474.55,42.00"/>
<polygon points="1484.00,25.60 1490.45,36.50 1477.55,36.50"/>
<polygon points="1489.00,13.50 1495.45,24.40 1482.55,24.40"/>
<polygon points="1490.40,2.70 1496.85,13.60 1483.95,13.60"/>
<polygon points="1481.50,17.40 1487.95,28.30 1475.05,28.30"/>
<polygon points="1473.10,27.40 1479.55,38.30 1466.65,38.30"/>
<polygon points="1460.60,34.80 1467.05,45.70 1454.15,45.70"/>
<polygon points="1448.10,38.90 1454.55,49.80 1441.65,49.80"/>
<polygon points="1435.50,41.40 1441.95,52.30 1429.05,52.30"/>
<polygon points="1431.80,41.90 1438.25,52.80 1425.35,52.80"/>
<polygon points="1419.10,43.30 1425.55,54.20 1412.65,54.20"/>
<polygon points="1406.80,44.50 1413.25,55.40 1400.35,55.40"/>
<polygon points="1394.70,45.60 1401.15,56.50 1388.25,56.50"/>
<polygon points="1370.00,47.00 1376.45,57.90 1363.55,57.90"/>
<polygon points="1345.60,48.60 1352.05,59.50 1339.15,59.50"/>
<polygon points="1321.00,50.00 1327.45,60.90 1314.55,60.90"/>
<polygon points="1296.40,51.50 1302.85,62.40 1289.95,62.40"/>
<polygon points="1271.70,52.80 1278.15,63.70 1265.25,63.70"/>
<polygon points="1247.40,54.90 1253.85,65.80 1240.95,65.80"/>
<polygon points="1223.70,62.80 1230.15,73.70 1217.25,73.70"/>
<polygon points="1197.30,67.00 1203.75,77.90 1190.85,77.90"/>
<polygon points="1174.70,69.50 1181.15,80.40 1168.25,80.40"/>
<polygon points="1150.10,72.30 1156.55,83.20 1143.65,83.20"/>
<polygon points="1125.40,75.30 1131.85,86.20 1118.95,86.20"/>
<polygon points="1100.80,78.70 1107.25,89.60 1094.35,89.60"/>
<polygon points="1071.60,83.30 1078.05,94.20 1065.15,94.20"/>
<polygon points="1042.30,90.90 1048.75,101.80 1035.85,101.80"/>
<line x1="1480.00" y1="85.00" x2="1551.60" y2="85.00" stroke="#000" stroke-width="1.35"/>
<rect x="1511.30" y="80.50" width="9.00" height="9.00"/>
<text x="1558.80" y="96.00" font-size="31.2" text-anchor="start" >SC300</text>
<line x1="1480.00" y1="123.40" x2="1551.60" y2="123.40" stroke="#000" stroke-width="1.35"/>
<circle cx="1515.80" cy="123.40" r="5.05"/>
<text x="1558.80" y="134.40" font-size="31.2" text-anchor="start" >SC500</text>
<line x1="1480.00" y1="162.20" x2="1551.60" y2="162.20" stroke="#000" stroke-width="1.35"/>
<polygon points="1515.80,155.40 1522.25,166.30 1509.35,166.30"/>
<text x="1558.80" y="173.20" font-size="31.2" text-anchor="start" >SC700</text>
<text transform="translate(891.4,250.5) rotate(-90)" font-size="31.5" word-spacing="-0.7" text-anchor="middle">Quantity Adsorbed (cm<tspan dy="-12.7" font-size="21">3</tspan><tspan dx="1.0" dy="12.7"> g</tspan><tspan dy="-12.7" font-size="21">-1</tspan><tspan dx="1.0" dy="12.7"> STP)</tspan></text>
<text x="1228.3" y="563.1" font-size="40.8" letter-spacing="-0.2" text-anchor="start">P/P<tspan dx="0" dy="10.8" font-size="29.3">0</tspan></text>
<text x="1253.1" y="40.5" font-size="31.5" text-anchor="middle">(b)</text>
<line x1="108.43" y1="626.10" x2="108.43" y2="1101.05" stroke="#000" stroke-width="1.9"/>
<line x1="107.48" y1="1100.10" x2="696.86" y2="1100.10" stroke="#000" stroke-width="1.9"/>
<line x1="145.15" y1="1100.10" x2="145.15" y2="1109.60" stroke="#000" stroke-width="1.9"/>
<text x="145.15" y="1138.50" font-size="29.5" text-anchor="middle" >0</text>
<line x1="255.30" y1="1100.10" x2="255.30" y2="1109.60" stroke="#000" stroke-width="1.9"/>
<text x="255.30" y="1138.50" font-size="29.5" text-anchor="middle" >30</text>
<line x1="365.45" y1="1100.10" x2="365.45" y2="1109.60" stroke="#000" stroke-width="1.9"/>
<text x="365.45" y="1138.50" font-size="29.5" text-anchor="middle" >60</text>
<line x1="475.60" y1="1100.10" x2="475.60" y2="1109.60" stroke="#000" stroke-width="1.9"/>
<text x="475.60" y="1138.50" font-size="29.5" text-anchor="middle" >90</text>
<line x1="585.75" y1="1100.10" x2="585.75" y2="1109.60" stroke="#000" stroke-width="1.9"/>
<text x="585.75" y="1138.50" font-size="29.5" text-anchor="middle" >120</text>
<line x1="695.90" y1="1100.10" x2="695.90" y2="1109.60" stroke="#000" stroke-width="1.9"/>
<text x="695.90" y="1138.50" font-size="29.5" text-anchor="middle" >150</text>
<line x1="200.23" y1="1100.10" x2="200.23" y2="1105.10" stroke="#000" stroke-width="1.9"/>
<line x1="310.38" y1="1100.10" x2="310.38" y2="1105.10" stroke="#000" stroke-width="1.9"/>
<line x1="420.53" y1="1100.10" x2="420.53" y2="1105.10" stroke="#000" stroke-width="1.9"/>
<line x1="530.68" y1="1100.10" x2="530.68" y2="1105.10" stroke="#000" stroke-width="1.9"/>
<line x1="640.83" y1="1100.10" x2="640.83" y2="1105.10" stroke="#000" stroke-width="1.9"/>
<line x1="98.93" y1="1052.70" x2="108.43" y2="1052.70" stroke="#000" stroke-width="1.9"/>
<text x="92.43" y="1062.00" font-size="29.5" text-anchor="end" >0.00</text>
<line x1="98.93" y1="957.90" x2="108.43" y2="957.90" stroke="#000" stroke-width="1.9"/>
<text x="92.43" y="967.20" font-size="29.5" text-anchor="end" >0.02</text>
<line x1="98.93" y1="863.10" x2="108.43" y2="863.10" stroke="#000" stroke-width="1.9"/>
<text x="92.43" y="872.40" font-size="29.5" text-anchor="end" >0.04</text>
<line x1="98.93" y1="768.30" x2="108.43" y2="768.30" stroke="#000" stroke-width="1.9"/>
<text x="92.43" y="777.60" font-size="29.5" text-anchor="end" >0.06</text>
<line x1="98.93" y1="673.50" x2="108.43" y2="673.50" stroke="#000" stroke-width="1.9"/>
<text x="92.43" y="682.80" font-size="29.5" text-anchor="end" >0.08</text>
<line x1="103.43" y1="1100.10" x2="108.43" y2="1100.10" stroke="#000" stroke-width="1.9"/>
<line x1="103.43" y1="1005.30" x2="108.43" y2="1005.30" stroke="#000" stroke-width="1.9"/>
<line x1="103.43" y1="910.50" x2="108.43" y2="910.50" stroke="#000" stroke-width="1.9"/>
<line x1="103.43" y1="815.70" x2="108.43" y2="815.70" stroke="#000" stroke-width="1.9"/>
<line x1="103.43" y1="720.90" x2="108.43" y2="720.90" stroke="#000" stroke-width="1.9"/>
<line x1="103.43" y1="626.10" x2="108.43" y2="626.10" stroke="#000" stroke-width="1.9"/>
<polyline points="151.9,1023.6 152.0,1027.5 152.2,1031.2 152.7,1034.8 153.4,1038.0 154.3,1040.8 155.4,1043.3 156.8,1045.2 158.4,1046.4 160.3,1046.8 162.4,1046.6 164.7,1046.2 167.3,1045.5 170.1,1044.6 173.4,1043.6 177.0,1042.5 181.0,1041.0 185.5,1039.5 190.5,1037.8 195.5,1036.3 200.8,1034.9 213.0,1032.0 230.9,1029.6 262.9,1024.3 328.4,1017.6 486.6,1010.2 629.8,1008.6" fill="none" stroke="#000" stroke-width="1.35" stroke-linejoin="round"/>
<rect x="146.75" y="1018.45" width="10.30" height="10.30"/>
<rect x="146.85" y="1022.35" width="10.30" height="10.30"/>
<rect x="147.05" y="1026.05" width="10.30" height="10.30"/>
<rect x="147.55" y="1029.65" width="10.30" height="10.30"/>
<rect x="148.25" y="1032.85" width="10.30" height="10.30"/>
<rect x="149.15" y="1035.65" width="10.30" height="10.30"/>
<rect x="150.25" y="1038.15" width="10.30" height="10.30"/>
<rect x="151.65" y="1040.05" width="10.30" height="10.30"/>
<rect x="153.25" y="1041.25" width="10.30" height="10.30"/>
<rect x="155.15" y="1041.65" width="10.30" height="10.30"/>
<rect x="157.25" y="1041.45" width="10.30" height="10.30"/>
<rect x="159.55" y="1041.05" width="10.30" height="10.30"/>
<rect x="162.15" y="1040.35" width="10.30" height="10.30"/>
<rect x="164.95" y="1039.45" width="10.30" height="10.30"/>
<rect x="168.25" y="1038.45" width="10.30" height="10.30"/>
<rect x="171.85" y="1037.35" width="10.30" height="10.30"/>
<rect x="175.85" y="1035.85" width="10.30" height="10.30"/>
<rect x="180.35" y="1034.35" width="10.30" height="10.30"/>
<rect x="185.35" y="1032.65" width="10.30" height="10.30"/>
<rect x="190.35" y="1031.15" width="10.30" height="10.30"/>
<rect x="195.65" y="1029.75" width="10.30" height="10.30"/>
<rect x="207.85" y="1026.85" width="10.30" height="10.30"/>
<rect x="225.75" y="1024.45" width="10.30" height="10.30"/>
<rect x="257.75" y="1019.15" width="10.30" height="10.30"/>
<rect x="323.25" y="1012.45" width="10.30" height="10.30"/>
<rect x="481.45" y="1005.05" width="10.30" height="10.30"/>
<rect x="624.65" y="1003.45" width="10.30" height="10.30"/>
<polyline points="151.6,918.4 152.4,924.0 153.1,941.5 152.7,947.5 152.0,959.6 153.7,1003.3 154.6,1007.5 155.5,1012.8 156.4,1018.1 157.1,1023.5 157.7,1028.2 158.7,1032.2 160.1,1034.6 161.6,1034.2 163.8,1032.2 166.1,1029.8 169.4,1026.2 173.1,1018.5 179.4,1006.6 185.8,975.6 192.6,976.2 200.8,954.1 212.7,934.1 231.0,901.3 261.9,885.2 327.1,957.7 491.6,936.4 594.0,999.6" fill="none" stroke="#000" stroke-width="1.35" stroke-linejoin="round"/>
<circle cx="151.60" cy="918.40" r="5.7"/>
<circle cx="152.40" cy="924.00" r="5.7"/>
<circle cx="153.10" cy="941.50" r="5.7"/>
<circle cx="152.70" cy="947.50" r="5.7"/>
<circle cx="152.00" cy="959.60" r="5.7"/>
<circle cx="153.70" cy="1003.30" r="5.7"/>
<circle cx="154.60" cy="1007.50" r="5.7"/>
<circle cx="155.50" cy="1012.80" r="5.7"/>
<circle cx="156.40" cy="1018.10" r="5.7"/>
<circle cx="157.10" cy="1023.50" r="5.7"/>
<circle cx="157.70" cy="1028.20" r="5.7"/>
<circle cx="158.70" cy="1032.20" r="5.7"/>
<circle cx="160.10" cy="1034.60" r="5.7"/>
<circle cx="161.60" cy="1034.20" r="5.7"/>
<circle cx="163.80" cy="1032.20" r="5.7"/>
<circle cx="166.10" cy="1029.80" r="5.7"/>
<circle cx="169.40" cy="1026.20" r="5.7"/>
<circle cx="173.10" cy="1018.50" r="5.7"/>
<circle cx="179.40" cy="1006.60" r="5.7"/>
<circle cx="185.80" cy="975.60" r="5.7"/>
<circle cx="192.60" cy="976.20" r="5.7"/>
<circle cx="200.80" cy="954.10" r="5.7"/>
<circle cx="212.70" cy="934.10" r="5.7"/>
<circle cx="231.00" cy="901.30" r="5.7"/>
<circle cx="261.90" cy="885.20" r="5.7"/>
<circle cx="327.10" cy="957.70" r="5.7"/>
<circle cx="491.60" cy="936.40" r="5.7"/>
<circle cx="594.00" cy="999.60" r="5.7"/>
<polyline points="151.7,663.0 152.0,692.9 152.4,713.5 152.8,740.4 153.2,751.2 153.8,790.8 154.6,806.0 155.5,818.3 156.7,829.7 157.9,839.0 159.3,849.6 161.0,862.5 163.0,881.4 165.6,904.9 168.9,935.5 173.3,962.6 179.1,985.4 185.6,987.4 191.6,996.5 201.2,995.2 212.7,993.2 230.0,988.2 259.9,976.5 320.0,961.3 455.8,946.8 599.6,945.7" fill="none" stroke="#000" stroke-width="1.35" stroke-linejoin="round"/>
<polygon points="151.70,654.60 159.10,667.45 144.30,667.45"/>
<polygon points="152.00,684.50 159.40,697.35 144.60,697.35"/>
<polygon points="152.40,705.10 159.80,717.95 145.00,717.95"/>
<polygon points="152.80,732.00 160.20,744.85 145.40,744.85"/>
<polygon points="153.20,742.80 160.60,755.65 145.80,755.65"/>
<polygon points="153.80,782.40 161.20,795.25 146.40,795.25"/>
<polygon points="154.60,797.60 162.00,810.45 147.20,810.45"/>
<polygon points="155.50,809.90 162.90,822.75 148.10,822.75"/>
<polygon points="156.70,821.30 164.10,834.15 149.30,834.15"/>
<polygon points="157.90,830.60 165.30,843.45 150.50,843.45"/>
<polygon points="159.30,841.20 166.70,854.05 151.90,854.05"/>
<polygon points="161.00,854.10 168.40,866.95 153.60,866.95"/>
<polygon points="163.00,873.00 170.40,885.85 155.60,885.85"/>
<polygon points="165.60,896.50 173.00,909.35 158.20,909.35"/>
<polygon points="168.90,927.10 176.30,939.95 161.50,939.95"/>
<polygon points="173.30,954.20 180.70,967.05 165.90,967.05"/>
<polygon points="179.10,977.00 186.50,989.85 171.70,989.85"/>
<polygon points="185.60,979.00 193.00,991.85 178.20,991.85"/>
<polygon points="191.60,988.10 199.00,1000.95 184.20,1000.95"/>
<polygon points="201.20,986.80 208.60,999.65 193.80,999.65"/>
<polygon points="212.70,984.80 220.10,997.65 205.30,997.65"/>
<polygon points="230.00,979.80 237.40,992.65 222.60,992.65"/>
<polygon points="259.90,968.10 267.30,980.95 252.50,980.95"/>
<polygon points="320.00,952.90 327.40,965.75 312.60,965.75"/>
<polygon points="455.80,938.40 463.20,951.25 448.40,951.25"/>
<polygon points="599.60,937.30 607.00,950.15 592.20,950.15"/>
<line x1="529.90" y1="647.10" x2="601.50" y2="647.10" stroke="#000" stroke-width="1.35"/>
<rect x="560.55" y="641.95" width="10.30" height="10.30"/>
<text x="608.20" y="657.80" font-size="31.2" text-anchor="start" >PC300</text>
<line x1="529.90" y1="686.00" x2="601.50" y2="686.00" stroke="#000" stroke-width="1.35"/>
<circle cx="565.70" cy="686.00" r="5.7"/>
<text x="608.20" y="696.70" font-size="31.2" text-anchor="start" >PC500</text>
<line x1="529.90" y1="724.40" x2="601.50" y2="724.40" stroke="#000" stroke-width="1.35"/>
<polygon points="565.70,716.00 573.10,728.85 558.30,728.85"/>
<text x="608.20" y="735.10" font-size="31.2" text-anchor="start" >PC700</text>
<text transform="translate(30,863.6) rotate(-90)" font-size="31.5" word-spacing="-0.7" text-anchor="middle">dV/dlog(D) Pore Volume (cm<tspan dy="-12.7" font-size="21">3</tspan><tspan dx="1.0" dy="12.7"> g</tspan><tspan dy="-12.7" font-size="21">-1</tspan><tspan dy="12.7">)</tspan></text>
<text x="402.4" y="1186.8" font-size="31.5" text-anchor="middle">Pore Diameter (nm)</text>
<text x="403.7" y="661.2" font-size="40" text-anchor="middle">(c)</text>
<line x1="970.28" y1="626.65" x2="970.28" y2="1101.00" stroke="#000" stroke-width="1.9"/>
<line x1="969.33" y1="1100.05" x2="1558.75" y2="1100.05" stroke="#000" stroke-width="1.9"/>
<line x1="1007.00" y1="1100.05" x2="1007.00" y2="1109.55" stroke="#000" stroke-width="1.9"/>
<text x="1007.00" y="1138.45" font-size="29.5" text-anchor="middle" >0</text>
<line x1="1117.16" y1="1100.05" x2="1117.16" y2="1109.55" stroke="#000" stroke-width="1.9"/>
<text x="1117.16" y="1138.45" font-size="29.5" text-anchor="middle" >30</text>
<line x1="1227.32" y1="1100.05" x2="1227.32" y2="1109.55" stroke="#000" stroke-width="1.9"/>
<text x="1227.32" y="1138.45" font-size="29.5" text-anchor="middle" >60</text>
<line x1="1337.48" y1="1100.05" x2="1337.48" y2="1109.55" stroke="#000" stroke-width="1.9"/>
<text x="1337.48" y="1138.45" font-size="29.5" text-anchor="middle" >90</text>
<line x1="1447.64" y1="1100.05" x2="1447.64" y2="1109.55" stroke="#000" stroke-width="1.9"/>
<text x="1447.64" y="1138.45" font-size="29.5" text-anchor="middle" >120</text>
<line x1="1557.80" y1="1100.05" x2="1557.80" y2="1109.55" stroke="#000" stroke-width="1.9"/>
<text x="1557.80" y="1138.45" font-size="29.5" text-anchor="middle" >150</text>
<line x1="1062.08" y1="1100.05" x2="1062.08" y2="1105.05" stroke="#000" stroke-width="1.9"/>
<line x1="1172.24" y1="1100.05" x2="1172.24" y2="1105.05" stroke="#000" stroke-width="1.9"/>
<line x1="1282.40" y1="1100.05" x2="1282.40" y2="1105.05" stroke="#000" stroke-width="1.9"/>
<line x1="1392.56" y1="1100.05" x2="1392.56" y2="1105.05" stroke="#000" stroke-width="1.9"/>
<line x1="1502.72" y1="1100.05" x2="1502.72" y2="1105.05" stroke="#000" stroke-width="1.9"/>
<line x1="960.78" y1="1060.60" x2="970.28" y2="1060.60" stroke="#000" stroke-width="1.9"/>
<text x="954.28" y="1069.90" font-size="29.5" text-anchor="end" >0.00</text>
<line x1="960.78" y1="981.70" x2="970.28" y2="981.70" stroke="#000" stroke-width="1.9"/>
<text x="954.28" y="991.00" font-size="29.5" text-anchor="end" >0.02</text>
<line x1="960.78" y1="902.80" x2="970.28" y2="902.80" stroke="#000" stroke-width="1.9"/>
<text x="954.28" y="912.10" font-size="29.5" text-anchor="end" >0.04</text>
<line x1="960.78" y1="823.90" x2="970.28" y2="823.90" stroke="#000" stroke-width="1.9"/>
<text x="954.28" y="833.20" font-size="29.5" text-anchor="end" >0.06</text>
<line x1="960.78" y1="745.00" x2="970.28" y2="745.00" stroke="#000" stroke-width="1.9"/>
<text x="954.28" y="754.30" font-size="29.5" text-anchor="end" >0.08</text>
<line x1="960.78" y1="666.10" x2="970.28" y2="666.10" stroke="#000" stroke-width="1.9"/>
<text x="954.28" y="675.40" font-size="29.5" text-anchor="end" >0.10</text>
<line x1="965.28" y1="1100.05" x2="970.28" y2="1100.05" stroke="#000" stroke-width="1.9"/>
<line x1="965.28" y1="1021.15" x2="970.28" y2="1021.15" stroke="#000" stroke-width="1.9"/>
<line x1="965.28" y1="942.25" x2="970.28" y2="942.25" stroke="#000" stroke-width="1.9"/>
<line x1="965.28" y1="863.35" x2="970.28" y2="863.35" stroke="#000" stroke-width="1.9"/>
<line x1="965.28" y1="784.45" x2="970.28" y2="784.45" stroke="#000" stroke-width="1.9"/>
<line x1="965.28" y1="705.55" x2="970.28" y2="705.55" stroke="#000" stroke-width="1.9"/>
<line x1="965.28" y1="626.65" x2="970.28" y2="626.65" stroke="#000" stroke-width="1.9"/>
<polyline points="1015.4,1029.8 1016.0,1035.5 1017.3,1041.7 1019.9,1047.8 1025.2,1051.7 1030.9,1053.1 1035.3,1049.6 1041.0,1046.0 1048.0,1034.6 1053.6,1039.9 1063.4,1035.9 1074.8,1030.2 1093.1,1020.6 1125.2,1004.9 1190.0,979.5 1350.8,983.7 1516.2,1011.7" fill="none" stroke="#000" stroke-width="1.35" stroke-linejoin="round"/>
<rect x="1010.25" y="1024.65" width="10.30" height="10.30"/>
<rect x="1010.85" y="1030.35" width="10.30" height="10.30"/>
<rect x="1012.15" y="1036.55" width="10.30" height="10.30"/>
<rect x="1014.75" y="1042.65" width="10.30" height="10.30"/>
<rect x="1020.05" y="1046.55" width="10.30" height="10.30"/>
<rect x="1025.75" y="1047.95" width="10.30" height="10.30"/>
<rect x="1030.15" y="1044.45" width="10.30" height="10.30"/>
<rect x="1035.85" y="1040.85" width="10.30" height="10.30"/>
<rect x="1042.85" y="1029.45" width="10.30" height="10.30"/>
<rect x="1048.45" y="1034.75" width="10.30" height="10.30"/>
<rect x="1058.25" y="1030.75" width="10.30" height="10.30"/>
<rect x="1069.65" y="1025.05" width="10.30" height="10.30"/>
<rect x="1087.95" y="1015.45" width="10.30" height="10.30"/>
<rect x="1120.05" y="999.75" width="10.30" height="10.30"/>
<rect x="1184.85" y="974.35" width="10.30" height="10.30"/>
<rect x="1345.65" y="978.55" width="10.30" height="10.30"/>
<rect x="1511.05" y="1006.55" width="10.30" height="10.30"/>
<polyline points="1013.5,947.8 1013.8,968.6 1013.8,973.1 1013.8,977.6 1013.9,982.0 1014.0,986.3 1014.2,990.7 1014.5,995.1 1015.0,999.5 1015.4,1003.9 1016.1,1007.8 1016.9,1011.8 1018.2,1015.3 1019.5,1018.8 1021.7,1021.4 1023.9,1024.1 1026.3,1024.3 1028.7,1024.5 1031.1,1022.1 1033.5,1019.7 1035.0,1016.7 1036.6,1013.6 1041.1,1003.8 1047.6,982.9 1053.6,971.9 1062.2,944.0 1073.5,907.7 1090.8,850.4 1119.0,825.5 1179.7,927.5 1363.4,946.6 1456.4,998.4" fill="none" stroke="#000" stroke-width="1.35" stroke-linejoin="round"/>
<circle cx="1013.50" cy="947.80" r="5.7"/>
<circle cx="1013.80" cy="968.60" r="5.7"/>
<circle cx="1013.80" cy="973.10" r="5.7"/>
<circle cx="1013.80" cy="977.60" r="5.7"/>
<circle cx="1013.90" cy="981.95" r="5.7"/>
<circle cx="1014.00" cy="986.30" r="5.7"/>
<circle cx="1014.25" cy="990.70" r="5.7"/>
<circle cx="1014.50" cy="995.10" r="5.7"/>
<circle cx="1014.95" cy="999.50" r="5.7"/>
<circle cx="1015.40" cy="1003.90" r="5.7"/>
<circle cx="1016.15" cy="1007.85" r="5.7"/>
<circle cx="1016.90" cy="1011.80" r="5.7"/>
<circle cx="1018.20" cy="1015.30" r="5.7"/>
<circle cx="1019.50" cy="1018.80" r="5.7"/>
<circle cx="1021.70" cy="1021.45" r="5.7"/>
<circle cx="1023.90" cy="1024.10" r="5.7"/>
<circle cx="1026.30" cy="1024.30" r="5.7"/>
<circle cx="1028.70" cy="1024.50" r="5.7"/>
<circle cx="1031.10" cy="1022.10" r="5.7"/>
<circle cx="1033.50" cy="1019.70" r="5.7"/>
<circle cx="1035.05" cy="1016.65" r="5.7"/>
<circle cx="1036.60" cy="1013.60" r="5.7"/>
<circle cx="1041.10" cy="1003.80" r="5.7"/>
<circle cx="1047.60" cy="982.90" r="5.7"/>
<circle cx="1053.60" cy="971.90" r="5.7"/>
<circle cx="1062.20" cy="944.00" r="5.7"/>
<circle cx="1073.50" cy="907.70" r="5.7"/>
<circle cx="1090.80" cy="850.40" r="5.7"/>
<circle cx="1119.00" cy="825.50" r="5.7"/>
<circle cx="1179.70" cy="927.50" r="5.7"/>
<circle cx="1363.40" cy="946.60" r="5.7"/>
<circle cx="1456.40" cy="998.40" r="5.7"/>
<polyline points="1013.4,643.4 1013.9,679.5 1014.2,710.4 1014.6,754.4 1014.9,766.3 1015.5,811.7 1016.3,849.5 1017.3,878.8 1018.5,909.5 1019.9,931.5 1021.6,955.5 1023.7,973.0 1025.5,989.1 1027.5,1000.9 1030.4,1012.6 1035.0,1019.0 1041.0,1024.4 1047.8,1018.6 1053.1,1026.1 1062.7,1023.9 1074.4,1023.5 1123.6,1018.4 1185.9,1010.2 1367.1,1000.8 1463.4,1002.2" fill="none" stroke="#000" stroke-width="1.35" stroke-linejoin="round"/>
<polygon points="1013.40,635.00 1020.80,647.85 1006.00,647.85"/>
<polygon points="1013.90,671.10 1021.30,683.95 1006.50,683.95"/>
<polygon points="1014.20,702.00 1021.60,714.85 1006.80,714.85"/>
<polygon points="1014.60,746.00 1022.00,758.85 1007.20,758.85"/>
<polygon points="1014.90,757.90 1022.30,770.75 1007.50,770.75"/>
<polygon points="1015.50,803.30 1022.90,816.15 1008.10,816.15"/>
<polygon points="1016.30,841.10 1023.70,853.95 1008.90,853.95"/>
<polygon points="1017.30,870.40 1024.70,883.25 1009.90,883.25"/>
<polygon points="1018.50,901.10 1025.90,913.95 1011.10,913.95"/>
<polygon points="1019.90,923.10 1027.30,935.95 1012.50,935.95"/>
<polygon points="1021.60,947.10 1029.00,959.95 1014.20,959.95"/>
<polygon points="1023.70,964.60 1031.10,977.45 1016.30,977.45"/>
<polygon points="1025.50,980.70 1032.90,993.55 1018.10,993.55"/>
<polygon points="1027.50,992.50 1034.90,1005.35 1020.10,1005.35"/>
<polygon points="1030.40,1004.20 1037.80,1017.05 1023.00,1017.05"/>
<polygon points="1035.00,1010.60 1042.40,1023.45 1027.60,1023.45"/>
<polygon points="1041.00,1016.00 1048.40,1028.85 1033.60,1028.85"/>
<polygon points="1047.80,1010.20 1055.20,1023.05 1040.40,1023.05"/>
<polygon points="1053.10,1017.70 1060.50,1030.55 1045.70,1030.55"/>
<polygon points="1062.70,1015.50 1070.10,1028.35 1055.30,1028.35"/>
<polygon points="1074.40,1015.10 1081.80,1027.95 1067.00,1027.95"/>
<polygon points="1123.60,1010.00 1131.00,1022.85 1116.20,1022.85"/>
<polygon points="1185.90,1001.80 1193.30,1014.65 1178.50,1014.65"/>
<polygon points="1367.10,992.40 1374.50,1005.25 1359.70,1005.25"/>
<polygon points="1463.40,993.80 1470.80,1006.65 1456.00,1006.65"/>
<line x1="1392.00" y1="656.10" x2="1463.60" y2="656.10" stroke="#000" stroke-width="1.35"/>
<rect x="1422.65" y="650.95" width="10.30" height="10.30"/>
<text x="1470.80" y="666.10" font-size="31.2" text-anchor="start" >SC300</text>
<line x1="1392.00" y1="694.60" x2="1463.60" y2="694.60" stroke="#000" stroke-width="1.35"/>
<circle cx="1427.80" cy="694.60" r="5.7"/>
<text x="1470.80" y="704.60" font-size="31.2" text-anchor="start" >SC500</text>
<line x1="1392.00" y1="733.20" x2="1463.60" y2="733.20" stroke="#000" stroke-width="1.35"/>
<polygon points="1427.80,724.80 1435.20,737.65 1420.40,737.65"/>
<text x="1470.80" y="743.20" font-size="31.2" text-anchor="start" >SC700</text>
<text transform="translate(891.6,863.9) rotate(-90)" font-size="31.5" word-spacing="-0.7" text-anchor="middle">dV/dlog(D) Pore Volume (cm<tspan dy="-12.7" font-size="21">3</tspan><tspan dx="1.0" dy="12.7"> g</tspan><tspan dy="-12.7" font-size="21">-1</tspan><tspan dy="12.7">)</tspan></text>
<text x="1264.3" y="1186.8" font-size="31.5" text-anchor="middle">Pore Diameter (nm)</text>
<text x="1266" y="663.8" font-size="31.5" text-anchor="middle">(d)</text>
</svg>
</body></html>
